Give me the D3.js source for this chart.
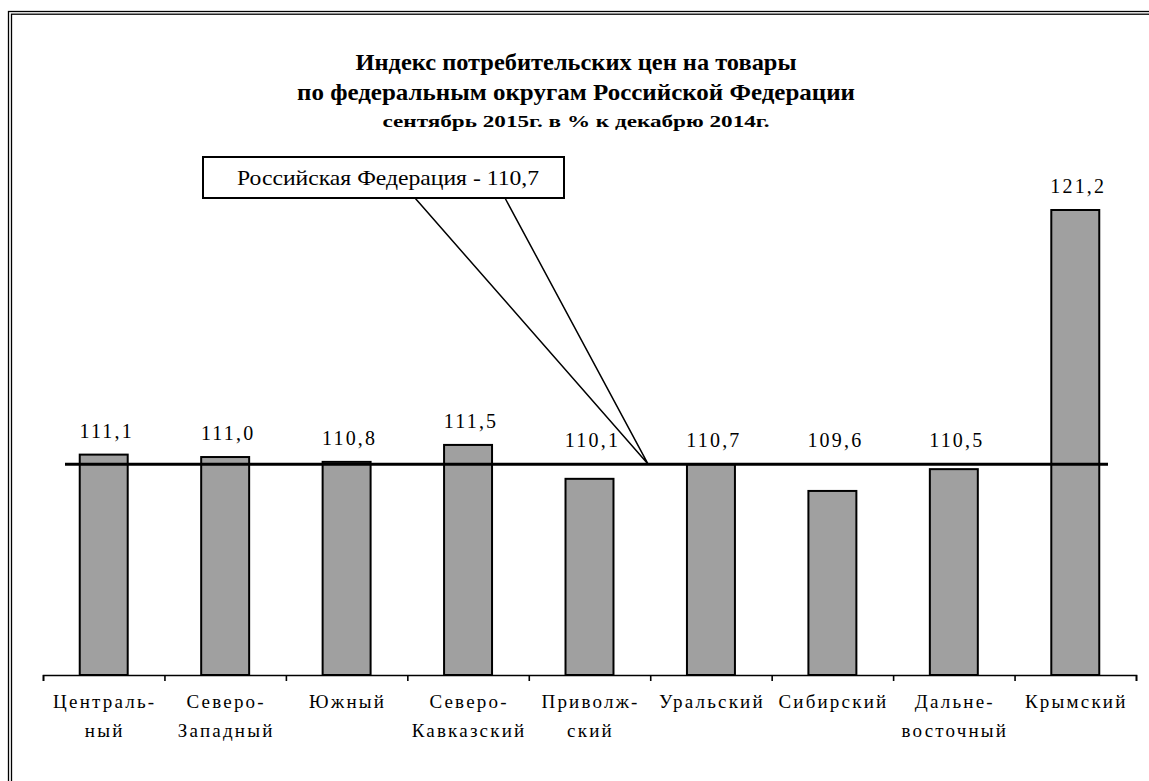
<!DOCTYPE html>
<html>
<head>
<meta charset="utf-8">
<script src="https://cdn.jsdelivr.net/npm/d3@7"></script>
<style>
  html, body { margin: 0; padding: 0; background: #fff; }
  svg { display: block; }
  svg text { font-family: "Liberation Serif", "Times New Roman", Tinos, serif; }
</style>
</head>
<body>
<svg id="chart" width="1149" height="781"></svg>
<script>
// ---- data ----
const categories = ["Централь-\nный", "Северо-\nЗападный", "Южный", "Северо-\nКавказский", "Приволж-\nский", "Уральский", "Сибирский", "Дальне-\nвосточный", "Крымский"];
const values = [111.1, 111.0, 110.8, 111.5, 110.1, 110.7, 109.6, 110.5, 121.2];
const referenceValue = 110.7;
const referenceLabel = "Российская Федерация - 110,7";
const titleLines = ["Индекс потребительских цен на товары", "по федеральным округам Российской Федерации", "сентябрь 2015г. в % к декабрю 2014г."];

const fmt = v => v.toFixed(1).replace(".", ",");

const svg = d3.select("#chart");

// frame (double line, right/bottom beyond the canvas)
svg.append("rect").attr("x", 8.5).attr("y", 11.5).attr("width", 1200).attr("height", 900)
  .attr("fill", "none").attr("stroke", "#000").attr("stroke-width", 1.3);
svg.append("rect").attr("x", 11.5).attr("y", 14.2).attr("width", 1200).attr("height", 900)
  .attr("fill", "none").attr("stroke", "#000").attr("stroke-width", 1.3);

// scales
const x = d3.scaleBand().domain(categories).range([43, 1136]).paddingInner(0.605).paddingOuter(0.3025);
const xb = d3.scaleLinear().domain([0, categories.length]).range([43, 1136]);
const y = d3.scaleLinear().domain([102, 121.2]).range([675, 210]);

// title
const titleSpecs = [
  { y: 70, size: 23, len: 441 },
  { y: 100, size: 23, len: 558 },
  { y: 127, size: 17, len: 387 }
];
titleLines.forEach((t, i) => {
  svg.append("text").attr("x", 576).attr("y", titleSpecs[i].y)
    .attr("text-anchor", "middle").attr("font-weight", "bold")
    .attr("font-size", titleSpecs[i].size)
    .attr("textLength", titleSpecs[i].len).attr("lengthAdjust", "spacingAndGlyphs")
    .text(t);
});

// bars
svg.append("g").selectAll("rect").data(values).join("rect")
  .attr("x", (d, i) => x(categories[i]))
  .attr("y", d => y(d))
  .attr("width", x.bandwidth())
  .attr("height", d => y(102) - y(d))
  .attr("fill", "#a0a0a0").attr("stroke", "#000").attr("stroke-width", 2);

// axis with ticks at category boundaries
const axis = d3.axisBottom(xb).tickValues(d3.range(categories.length + 1)).tickSize(6).tickSizeOuter(6).tickFormat("");
const ag = svg.append("g").attr("transform", `translate(0,${y(102)})`).call(axis);
ag.selectAll("path, line").attr("stroke", "#000").attr("stroke-width", 1.6);

// reference line
const yr = y(referenceValue);
svg.append("line").attr("x1", 65).attr("x2", 1108).attr("y1", yr).attr("y2", yr)
  .attr("stroke", "#000").attr("stroke-width", 3);

// value labels
svg.append("g").selectAll("text").data(values).join("text")
  .attr("x", (d, i) => x(categories[i]) + x.bandwidth() / 2 + 3)
  .attr("y", d => Math.min(y(d), yr) - 17)
  .attr("text-anchor", "middle").attr("font-size", 20)
  .attr("letter-spacing", 2.2)
  .text(d => fmt(d));

// category labels
categories.forEach((c, i) => {
  const lines = c.split("\n");
  const t = svg.append("text").attr("text-anchor", "middle")
    .attr("font-size", 19).attr("letter-spacing", 2.2);
  lines.forEach((l, j) => {
    t.append("tspan").attr("x", x(c) + x.bandwidth() / 2 + 1).attr("y", 708 + j * 29).text(l);
  });
});

// callout box
const tipX = xb(5) - 2;
svg.append("path")
  .attr("d", `M415,198 L${tipX},${yr} L505,198`)
  .attr("fill", "none").attr("stroke", "#000").attr("stroke-width", 1.5);
svg.append("rect").attr("x", 203).attr("y", 157).attr("width", 361).attr("height", 41)
  .attr("fill", "#fff").attr("stroke", "#000").attr("stroke-width", 2);
svg.append("text").attr("x", 388).attr("y", 185).attr("text-anchor", "middle")
  .attr("font-size", 21)
  .attr("textLength", 302).attr("lengthAdjust", "spacingAndGlyphs")
  .text(referenceLabel);
</script>
</body>
</html>
